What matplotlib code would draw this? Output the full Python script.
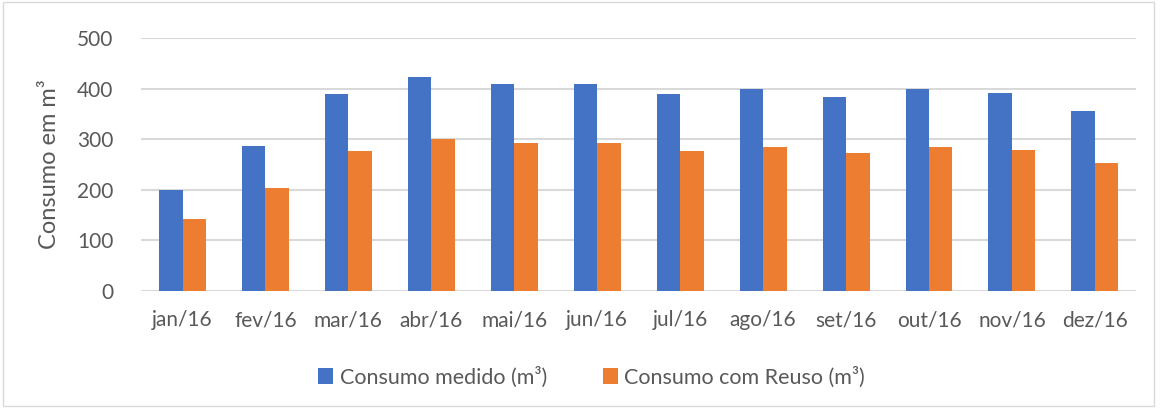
import matplotlib.pyplot as plt
import numpy as np
from matplotlib.patches import Rectangle

meses = ['jan/16', 'fev/16', 'mar/16', 'abr/16', 'mai/16', 'jun/16',
         'jul/16', 'ago/16', 'set/16', 'out/16', 'nov/16', 'dez/16']
consumo_medido = [200, 286, 390, 423, 410, 410, 390, 399, 383, 399, 392, 355]
consumo_reuso = [142, 203, 277, 301, 292, 292, 277, 284, 272, 284, 279, 252]

plt.rcParams['font.family'] = ['Lato', 'DejaVu Sans']
txt = '#595959'

fig = plt.figure(figsize=(11.6, 4.08), dpi=100)
ax = fig.add_axes([0.1216, 0.2868, 0.858, 0.620])

x = np.arange(len(meses))
w = 0.283
ax.bar(x - w / 2, consumo_medido, w, color='#4472C4', label='Consumo medido (m³)', zorder=3)
ax.bar(x + w / 2, consumo_reuso, w, color='#ED7D31', label='Consumo com Reuso (m³)', zorder=3)

ax.set_xlim(-0.5, len(meses) - 0.5)
ax.set_ylim(0, 500)
ax.set_yticks([0, 100, 200, 300, 400, 500])
ax.set_xticks(x)
ax.set_xticklabels(meses)
ax.yaxis.grid(True, color='#D9D9D9', linewidth=1.5, zorder=0)
for s in ax.spines.values():
    s.set_visible(False)
ax.tick_params(axis='both', length=0, labelsize=15, colors=txt)
ax.tick_params(axis='x', pad=14)
ax.tick_params(axis='y', pad=20)
ax.set_ylabel('Consumo em m³', fontsize=17, color=txt, labelpad=12)

fig.legend(loc='center', bbox_to_anchor=(0.51, 0.076), ncol=2, frameon=False,
           fontsize=15.5, labelcolor=txt, handlelength=0.7, handleheight=0.7,
           handletextpad=0.3, columnspacing=2.6)

fig.patches.append(Rectangle((0.003, 0.005), 0.992, 0.99, transform=fig.transFigure,
                             fill=False, edgecolor='#D9D9D9', linewidth=1))

plt.savefig('out.png', dpi=100)
